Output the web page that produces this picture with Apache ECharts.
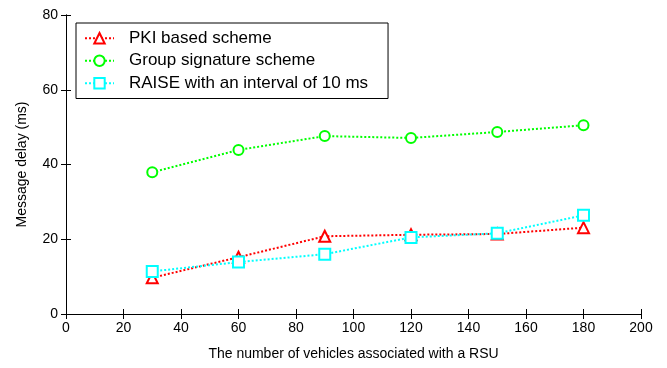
<!DOCTYPE html>
<html>
<head>
<meta charset="utf-8">
<script src="https://cdn.jsdelivr.net/npm/echarts@6/dist/echarts.min.js"></script>
<style>
  html, body { margin: 0; padding: 0; background: #fff; }
  #chart { width: 667px; height: 368px; }
</style>
</head>
<body>
<div id="chart"></div>
<script>
var vehicles = [30, 60, 90, 120, 150, 180];
var pkiDelay = [9.7, 15.2, 20.8, 21.2, 21.4, 23.1];
var groupDelay = [37.9, 43.9, 47.6, 47.1, 48.7, 50.5];
var raiseDelay = [11.4, 13.9, 16.0, 20.5, 21.6, 26.4];
var seriesNames = ['PKI based scheme', 'Group signature scheme', 'RAISE with an interval of 10 ms'];

function pairs(ys) {
    return vehicles.map(function (x, i) { return [x, ys[i]]; });
}

var myChart = echarts.init(document.getElementById('chart'));
var font = 'Liberation Sans';
option = {
    backgroundColor: '#fff',
    animation: false,
    textStyle: { fontFamily: font },
    grid: { left: 66, right: 26, top: 15, bottom: 54 },
    legend: {
        orient: 'vertical',
        left: 76,
        top: 23,
        padding: [6, 20, 6, 8],
        itemGap: 4,
        itemWidth: 29,
        itemHeight: 13,
        borderColor: '#000',
        borderWidth: 1,
        backgroundColor: '#fff',
        textStyle: { fontSize: 17, lineHeight: 18.5, color: '#000', fontFamily: font, padding: [0, 0, 0, 10] },
        data: seriesNames
    },
    xAxis: [{
        type: 'value',
        min: 0, max: 200, interval: 20,
        name: 'The number of vehicles associated with a RSU',
        nameLocation: 'middle',
        nameGap: 33,
        nameTextStyle: { fontSize: 14, color: '#000' },
        axisLine: { lineStyle: { color: '#000' } },
        axisTick: { inside: true, length: 5, lineStyle: { color: '#000' } },
        axisLabel: { fontSize: 14, color: '#000', margin: 7 },
        splitLine: { show: false }
    }, {
        type: 'value', position: 'top',
        min: 0, max: 200, interval: 20,
        axisLine: { show: true, lineStyle: { color: '#000' } },
        axisTick: { inside: true, length: 5, lineStyle: { color: '#000' } },
        axisLabel: { show: false },
        splitLine: { show: false }
    }],
    yAxis: [{
        type: 'value',
        min: 0, max: 80, interval: 20,
        name: 'Message delay (ms)',
        nameLocation: 'middle',
        nameGap: 37,
        nameTextStyle: { fontSize: 14, color: '#000' },
        axisLine: { show: true, lineStyle: { color: '#000' } },
        axisTick: { show: true, inside: true, length: 5, lineStyle: { color: '#000' } },
        axisLabel: { fontSize: 14, color: '#000', margin: 8 },
        splitLine: { show: false }
    }, {
        type: 'value', position: 'right',
        min: 0, max: 80, interval: 20,
        axisLine: { show: true, lineStyle: { color: '#000' } },
        axisTick: { show: true, inside: true, length: 5, lineStyle: { color: '#000' } },
        axisLabel: { show: false },
        splitLine: { show: false }
    }],
    series: [
        {
            name: seriesNames[0], type: 'line',
            data: pairs(pkiDelay),
            symbol: 'triangle', symbolSize: 11,
            lineStyle: { color: '#ff0000', width: 2, type: 'dotted' },
            itemStyle: { color: '#fff', borderColor: '#ff0000', borderWidth: 2 },
            z: 3
        },
        {
            name: seriesNames[1], type: 'line',
            data: pairs(groupDelay),
            symbol: 'circle', symbolSize: 10,
            lineStyle: { color: '#00ff00', width: 2, type: 'dotted' },
            itemStyle: { color: '#fff', borderColor: '#00ff00', borderWidth: 2 },
            z: 3
        },
        {
            name: seriesNames[2], type: 'line',
            data: pairs(raiseDelay),
            symbol: 'rect', symbolSize: 11,
            lineStyle: { color: '#00ffff', width: 2, type: 'dotted' },
            itemStyle: { color: '#fff', borderColor: '#00ffff', borderWidth: 2 },
            z: 4
        }
    ]
};
myChart.setOption(option, true);
</script>
</body>
</html>
